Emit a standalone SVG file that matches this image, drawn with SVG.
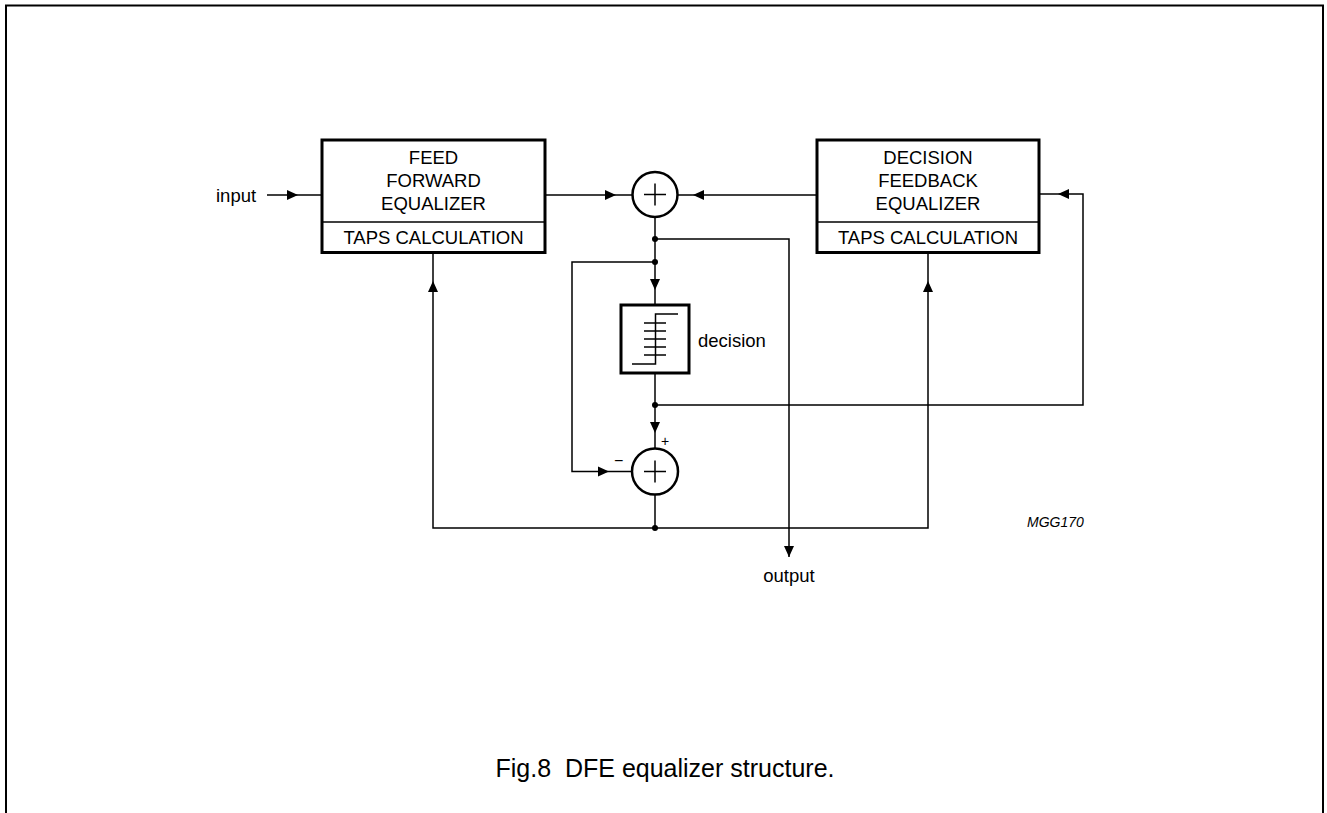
<svg xmlns="http://www.w3.org/2000/svg" width="1327" height="813" viewBox="0 0 1327 813">
<style>
.t{font-family:"Liberation Sans",Arial,sans-serif;font-size:18.5px;fill:#000}
.c{text-anchor:middle}
.box{fill:#fff;stroke:#000;stroke-width:3}
.div{stroke:#000;stroke-width:1.5}
.ln{fill:none;stroke:#000;stroke-width:1.5}
.sum{fill:#fff;stroke:#000;stroke-width:2.5}
.plus{stroke:#000;stroke-width:1.5}
.dot{fill:#000}
</style>
<defs>
<path id="ah" d="M0,0 L-11,-5 L-11,5 Z" fill="#000"/>
</defs>
<rect x="0" y="0" width="1327" height="813" fill="#fff"/>
<g id="frame">
<path d="M6,813 V5.5 H1323 V813" fill="none" stroke="#000" stroke-width="2"/>
</g>
<g id="connectors">
<path class="ln" d="M267,195 H322"/>
<path class="ln" d="M545,195 H632.5"/>
<path class="ln" d="M677.5,195 H817"/>
<path class="ln" d="M655,217 V305"/>
<path class="ln" d="M655,239 H789 V557"/>
<path class="ln" d="M655,262 H572 V471.5 H632"/>
<path class="ln" d="M655,373 V448.5"/>
<path class="ln" d="M655,405 H1083 V194 H1040"/>
<path class="ln" d="M655,494.5 V528"/>
<path class="ln" d="M433,253 V528 H928 V253"/>
<use href="#ah" transform="translate(298,195)"/>
<use href="#ah" transform="translate(616,195)"/>
<use href="#ah" transform="translate(693,195) rotate(180)"/>
<use href="#ah" transform="translate(1058,194) rotate(180)"/>
<use href="#ah" transform="translate(655,290) rotate(90)"/>
<use href="#ah" transform="translate(655,433) rotate(90)"/>
<use href="#ah" transform="translate(609,471.5)"/>
<use href="#ah" transform="translate(433,281) rotate(-90)"/>
<use href="#ah" transform="translate(928,281) rotate(-90)"/>
<use href="#ah" transform="translate(789,557) rotate(90)"/>
<circle class="dot" cx="655" cy="239" r="3"/>
<circle class="dot" cx="655" cy="262" r="3"/>
<circle class="dot" cx="655" cy="405" r="3"/>
<circle class="dot" cx="655" cy="528" r="3"/>
</g>
<g id="input-label"><text class="t" x="216" y="202">input</text></g>
<g id="ffe">
<rect class="box" x="322" y="140" width="223" height="112.5"/>
<line class="div" x1="322" y1="222" x2="545" y2="222"/>
<text class="t c" x="433.5" y="164">FEED</text>
<text class="t c" x="433.5" y="187">FORWARD</text>
<text class="t c" x="433.5" y="210">EQUALIZER</text>
<text class="t c" x="433.5" y="244">TAPS CALCULATION</text>
</g>
<g id="sum1">
<circle class="sum" cx="655" cy="194.5" r="22.5"/>
<path class="plus" d="M644,194.5 H666 M655,183.5 V205.5"/>
</g>
<g id="dfe">
<rect class="box" x="817" y="140" width="222" height="112.5"/>
<line class="div" x1="817" y1="222" x2="1039" y2="222"/>
<text class="t c" x="928" y="164">DECISION</text>
<text class="t c" x="928" y="187">FEEDBACK</text>
<text class="t c" x="928" y="210">EQUALIZER</text>
<text class="t c" x="928" y="244">TAPS CALCULATION</text>
</g>
<g id="decision">
<rect class="box" x="621" y="305" width="68" height="68"/>
<path class="ln" d="M632,364 H655.5 V314 H678"/>
<path class="ln" d="M644,323 H666 M644,331 H666 M644,339 H666 M644,347 H666 M644,355 H666"/>
<text class="t" x="698" y="347">decision</text>
</g>
<g id="sum2">
<circle class="sum" cx="655" cy="471.5" r="23"/>
<path class="plus" d="M644,471.5 H666 M655,460.5 V482.5"/>
<text class="t" x="661" y="446" style="font-size:14px">+</text>
<text class="t" x="614" y="466" style="font-size:16px">−</text>
</g>
<g id="output-label"><text class="t c" x="789" y="582">output</text></g>
<g id="code"><text class="t" x="1027" y="527" style="font-size:14px;font-style:italic">MGG170</text></g>
<g id="caption"><text class="t c" x="665" y="777" style="font-size:25px">Fig.8&#160; DFE equalizer structure.</text></g>
</svg>
